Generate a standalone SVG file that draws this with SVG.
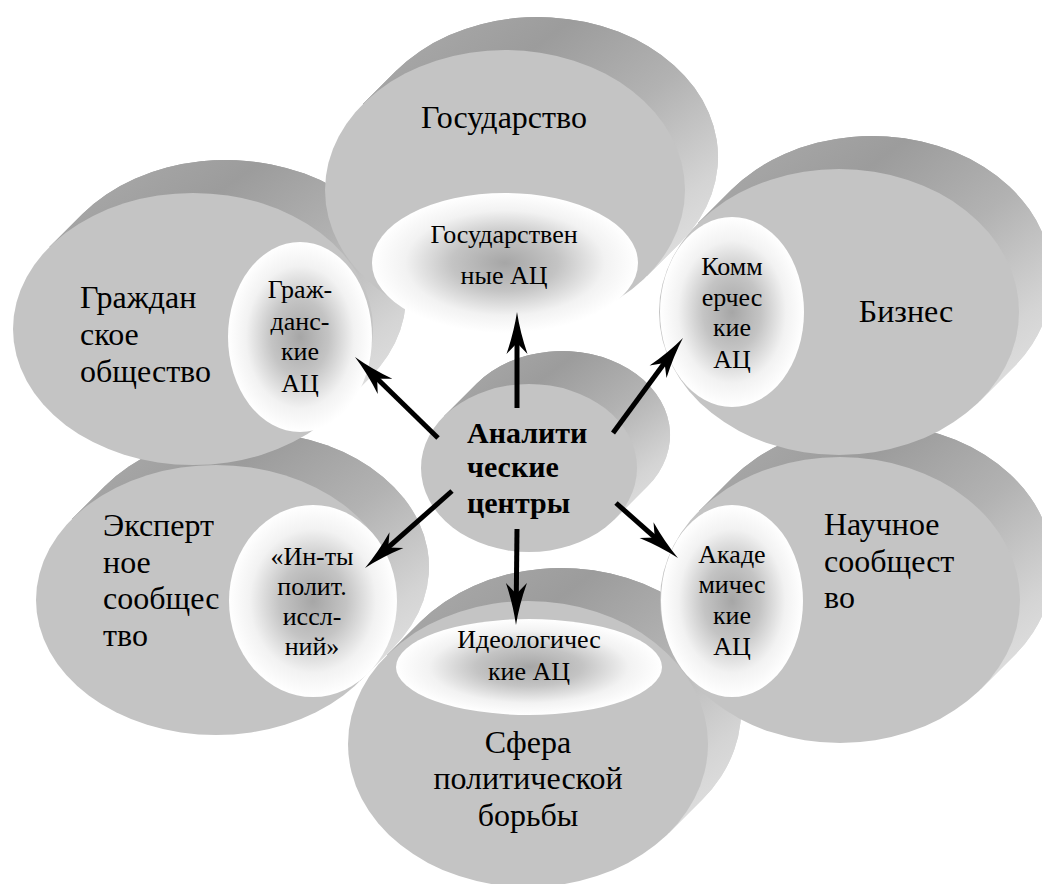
<svg xmlns="http://www.w3.org/2000/svg" xmlns:xlink="http://www.w3.org/1999/xlink" width="1042" height="884" viewBox="0 0 1042 884" font-family="Liberation Serif, Times New Roman, serif">
<defs>
<style>
.face{fill:#c4c4c4}
.side{fill:url(#sideGrad)}
.hatch{fill:url(#hatch)}
.inner{fill:url(#innerGrad)}
.t{font-family:'Liberation Serif','Times New Roman',serif;fill:#000000}
.big{font-size:32px}
.small{font-size:26px}
.bold{font-size:30px;font-weight:bold}
.c{text-anchor:middle}
.arrow{stroke:#000000;stroke-width:5;fill:none;marker-end:url(#ah)}
</style>
<linearGradient id="sideGrad" x1="0" y1="0" x2="1" y2="1">
<stop offset="0" stop-color="#adadad"/>
<stop offset="0.3" stop-color="#9c9c9c"/>
<stop offset="0.55" stop-color="#b2b2b2"/>
<stop offset="0.8" stop-color="#d4d4d4"/>
<stop offset="1" stop-color="#e6e6e6"/>
</linearGradient>
<pattern id="hatch" patternUnits="userSpaceOnUse" width="7" height="7" patternTransform="rotate(45)">
<rect x="0" y="0" width="1" height="7" fill="#ffffff" fill-opacity="0.12"/>
</pattern>
<radialGradient id="innerGrad" cx="0.5" cy="0.5" r="0.5">
<stop offset="0" stop-color="#a6a6a6"/>
<stop offset="0.4" stop-color="#c4c4c4"/>
<stop offset="0.75" stop-color="#f2f2f2"/>
<stop offset="1" stop-color="#ffffff"/>
</radialGradient>
<marker id="ah" markerUnits="userSpaceOnUse" viewBox="0 0 44 24" markerWidth="44" markerHeight="24" refX="24" refY="12" orient="auto">
<path d="M44,12 Q24,9 2,1.5 L13,12 L2,22.5 Q24,15 44,12 Z" fill="#000000"/>
</marker>
</defs>
<rect width="1042" height="884" fill="#ffffff"/>

<g id="node-sfera">
<path id="s-sfera" class="side" d="M387.1,655.1 L420.1,622.1 A180,143 0 0 1 673,599 A180,143 0 0 1 701.9,800 L668.9,833 Z"/>
<use xlink:href="#s-sfera" class="hatch"/>
<ellipse class="face" cx="528" cy="744" rx="180" ry="143"/>
<ellipse class="inner" cx="529" cy="667" rx="133" ry="48"/>
<text class="t small c" x="529" y="648">Идеологичес</text>
<text class="t small c" x="529" y="680">кие АЦ</text>
<text class="t big c" x="528" y="753">Сфера</text>
<text class="t big c" x="528" y="789">политической</text>
<text class="t big c" x="528" y="826">борьбы</text>
</g>

<g id="node-nauchnoe">
<path id="s-nauch" class="side" d="M699.1,511.1 L732.1,478.1 A180,143 0 0 1 985,455 A180,143 0 0 1 1013.9,656 L980.9,689 Z"/>
<use xlink:href="#s-nauch" class="hatch"/>
<ellipse class="face" cx="840" cy="600" rx="180" ry="143"/>
<ellipse class="inner" cx="732" cy="601" rx="71" ry="96"/>
<text class="t small c" x="732" y="563">Акаде</text>
<text class="t small c" x="732" y="593">мичес</text>
<text class="t small c" x="732" y="624">кие</text>
<text class="t small c" x="732" y="655">АЦ</text>
<text class="t big" x="824" y="535">Научное</text>
<text class="t big" x="824" y="572">сообщест</text>
<text class="t big" x="824" y="608">во</text>
</g>

<g id="node-expert">
<path id="s-expert" class="side" d="M72,519 L105,486 A180,135 0 0 1 357,459 A180,135 0 0 1 393,648 L360,681 Z"/>
<use xlink:href="#s-expert" class="hatch"/>
<ellipse class="face" cx="216" cy="600" rx="180" ry="135"/>
<ellipse class="inner" cx="313" cy="601" rx="84" ry="96"/>
<text class="t small c" x="312" y="565">«Ин-ты</text>
<text class="t small c" x="312" y="595">полит.</text>
<text class="t small c" x="312" y="625">иссл-</text>
<text class="t small c" x="312" y="655">ний»</text>
<text class="t big" x="103" y="536">Эксперт</text>
<text class="t big" x="103" y="573">ное</text>
<text class="t big" x="103" y="609">сообщес</text>
<text class="t big" x="103" y="646">тво</text>
</g>

<g id="node-biznes">
<path id="s-biz" class="side" d="M698.1,223.1 L731.1,190.1 A180,143 0 0 1 984,167 A180,143 0 0 1 1012.9,368 L979.9,401 Z"/>
<use xlink:href="#s-biz" class="hatch"/>
<ellipse class="face" cx="839" cy="312" rx="180" ry="143"/>
<ellipse class="inner" cx="732" cy="312" rx="72" ry="95"/>
<text class="t small c" x="732" y="275">Комм</text>
<text class="t small c" x="732" y="306">ерчес</text>
<text class="t small c" x="732" y="336">кие</text>
<text class="t small c" x="732" y="368">АЦ</text>
<text class="t big c" x="906" y="322">Бизнес</text>
</g>

<g id="node-grazhd">
<path id="s-grazhd" class="side" d="M49.4,247 L82.4,214 A180,136 0 0 1 334.5,187.5 A180,136 0 0 1 369.6,378 L336.6,411 Z"/>
<use xlink:href="#s-grazhd" class="hatch"/>
<ellipse class="face" cx="193" cy="329" rx="180" ry="136"/>
<ellipse class="inner" cx="300" cy="337" rx="72" ry="95"/>
<text class="t small c" x="300" y="298">Граж-</text>
<text class="t small c" x="300" y="330">данс-</text>
<text class="t small c" x="300" y="360">кие</text>
<text class="t small c" x="300" y="392">АЦ</text>
<text class="t big" x="80" y="308">Граждан</text>
<text class="t big" x="80" y="345">ское</text>
<text class="t big" x="80" y="382">общество</text>
</g>

<g id="node-gosudarstvo">
<path id="s-gos" class="side" d="M362.9,104.1 L395.9,71.1 A180,140 0 0 1 648.5,46.5 A180,140 0 0 1 680.1,243 L647.1,276 Z"/>
<use xlink:href="#s-gos" class="hatch"/>
<ellipse class="face" cx="505" cy="190" rx="180" ry="140"/>
<ellipse class="inner" cx="505" cy="263" rx="133" ry="70"/>
<text class="t big c" x="504" y="128">Государство</text>
<text class="t small c" x="504" y="243">Государствен</text>
<text class="t small c" x="504" y="284">ные АЦ</text>
</g>

<g id="node-center">
<path id="s-center" class="side" d="M443.8,416.4 L476.8,383.4 A108,84 0 0 1 628.3,368.7 A108,84 0 0 1 647.3,486.6 L614.3,519.6 Z"/>
<use xlink:href="#s-center" class="hatch"/>
<ellipse class="face" cx="529" cy="468" rx="108" ry="84"/>
<text class="t bold" x="467" y="443">Аналити</text>
<text class="t bold" x="467" y="477">ческие</text>
<text class="t bold" x="467" y="513">центры</text>
</g>

<g id="connectors">
<line class="arrow" x1="517" y1="408" x2="517" y2="332"/>
<line class="arrow" x1="438" y1="438" x2="369.3" y2="371"/>
<line class="arrow" x1="613" y1="433" x2="671.1" y2="354.1"/>
<line class="arrow" x1="452" y1="491" x2="380" y2="554.7"/>
<line class="arrow" x1="616" y1="503" x2="663" y2="544.7"/>
<line class="arrow" x1="517" y1="529" x2="516.2" y2="605"/>
</g>
</svg>
